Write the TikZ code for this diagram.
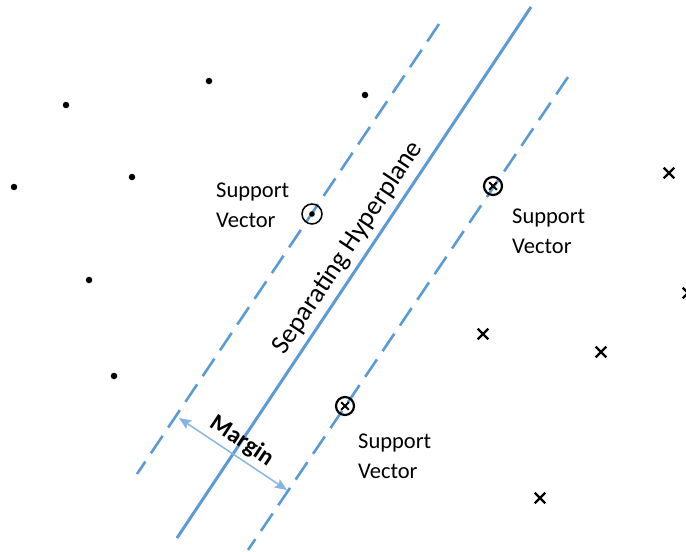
\documentclass[tikz,border=0pt]{standalone}
\usepackage{fontspec}
\setmainfont{Carlito}
\usetikzlibrary{arrows.meta,shapes.misc}
\definecolor{svmblue}{RGB}{91,155,213}
\tikzset{
  plane/.style  = {draw=svmblue, line width=3pt},
  bound/.style  = {draw=svmblue, line width=2.6pt, dash pattern=on 21pt off 10pt},
  arr/.style    = {{Stealth[length=12pt,width=10pt,inset=2pt]}-{Stealth[length=12pt,width=10pt,inset=2pt]},
                   draw=svmblue!75, line width=1.4pt},
  dotpt/.style  = {circle, fill=black, inner sep=0pt, minimum size=6.5pt},
  crosspt/.style= {cross out, draw=black, line width=2.2pt, inner sep=0pt, minimum size=8.5pt},
  svdot/.style  = {circle, draw=black, line width=1.5pt, inner sep=0pt, minimum size=20pt,
                   path picture={\fill[black] (path picture bounding box.center) circle (2.8pt);}},
  svcross/.style= {circle, draw=black, line width=2.2pt, inner sep=0pt, minimum size=18pt,
                   path picture={
                     \draw[line width=2pt]
                       ([shift={(-3.8pt,-3.8pt)}]path picture bounding box.center) --
                       ([shift={(3.8pt,3.8pt)}]path picture bounding box.center)
                       ([shift={(-3.8pt,3.8pt)}]path picture bounding box.center) --
                       ([shift={(3.8pt,-3.8pt)}]path picture bounding box.center);}},
  lab/.style    = {font=\fontsize{22.5}{30}\selectfont, align=left, anchor=west, inner sep=0pt},
}

\begin{document}
\begin{tikzpicture}[x=1pt,y=-1pt]
  \useasboundingbox (0,0) rectangle (686,552);

  % hyperplane and the two margin lines
  \coordinate (h1) at (177,538); \coordinate (h2) at (531,7);
  \coordinate (m1) at (137,474); \coordinate (m2) at (439,24);
  \coordinate (n1) at (248,550); \coordinate (n2) at (568,77);
  \draw[plane] (h1) -- (h2)
    node[pos=0.527, sloped, above=2pt, font=\fontsize{27}{30}\selectfont] (hplab) {Separating Hyperplane};
  \draw[bound] (m2) -- (m1);
  \draw[bound] (n2) -- (n1);

  % margin width
  \coordinate (a1) at (179,418); \coordinate (a2) at (287,490);
  \draw[arr] (a1) -- (a2)
    node[midway, sloped, above=1pt, font=\fontsize{24}{26}\selectfont\bfseries] (marglab) {Margin};

  % class one
  \foreach \p [count=\i] in {(66,105),(209,81),(365,95),(14,187),(132,177),(89,280),(114,376)}
    \node[dotpt] (d\i) at \p {};
  % class two
  \foreach \p [count=\i] in {(669,173),(688,293),(483,334),(601,352),(540,498)}
    \node[crosspt] (x\i) at \p {};

  % support vectors
  \node[svdot]   (sv1) at (312,214) {};
  \node[svcross] (sv2) at (493,186) {};
  \node[svcross] (sv3) at (345,406) {};
  \node[lab] (sl1) at (216,205) {Support\\Vector};
  \node[lab] (sl2) at (512,231) {Support\\Vector};
  \node[lab] (sl3) at (358,456) {Support\\Vector};
\end{tikzpicture}
\end{document}
